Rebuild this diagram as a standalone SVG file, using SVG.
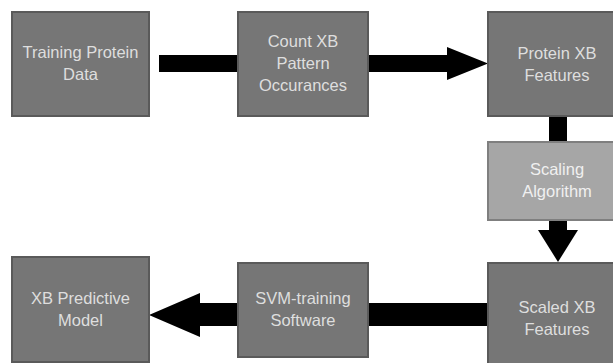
<svg xmlns="http://www.w3.org/2000/svg" width="613" height="363" viewBox="0 0 613 363">
<style>
.box{fill:#767676;stroke:#5a5a5a;stroke-width:2}
.box2{fill:#a6a6a6;stroke:#7f7f7f;stroke-width:2}
.t{font-family:"Liberation Sans",Arial,sans-serif;font-size:16.5px;fill:#dedede;text-anchor:middle}
.t2{fill:#f0f0f0}
.c{fill:#000}
</style>
<rect width="613" height="363" fill="#fff"/>
<g id="connectors">
<rect class="c" x="159" y="55" width="79" height="17"/>
<polygon class="c" points="368,55 447,55 447,47 488,63.5 447,80 447,72 368,72"/>
<rect class="c" x="549" y="116" width="18" height="26"/>
<polygon class="c" points="549,220 567,220 567,230 578,230 558,262 538,230 549,230"/>
<rect class="c" x="368" y="303" width="120" height="23"/>
<polygon class="c" points="238,303 200,303 200,293 149,315 200,337 200,326 238,326"/>
</g>
<g id="training">
<rect class="box" x="12" y="12" width="137" height="104"/>
<text class="t" x="80.5" y="58">Training Protein</text>
<text class="t" x="80.5" y="80">Data</text>
</g>
<g id="count">
<rect class="box" x="238" y="12" width="130" height="104"/>
<text class="t" x="303" y="47">Count XB</text>
<text class="t" x="303" y="69">Pattern</text>
<text class="t" x="303" y="91">Occurances</text>
</g>
<g id="protein">
<rect class="box" x="488" y="12" width="138" height="104"/>
<text class="t" x="557" y="59">Protein XB</text>
<text class="t" x="557" y="81">Features</text>
</g>
<g id="scaling">
<rect class="box2" x="488" y="142" width="138" height="78"/>
<text class="t t2" x="557" y="175">Scaling</text>
<text class="t t2" x="557" y="197">Algorithm</text>
</g>
<g id="scaled">
<rect class="box" x="488" y="263" width="138" height="118"/>
<text class="t" x="557" y="313">Scaled XB</text>
<text class="t" x="557" y="335">Features</text>
</g>
<g id="svm">
<rect class="box" x="238" y="263" width="130" height="94"/>
<text class="t" x="303" y="304">SVM-training</text>
<text class="t" x="303" y="326">Software</text>
</g>
<g id="model">
<rect class="box" x="12" y="257" width="137" height="105"/>
<text class="t" x="80.5" y="304">XB Predictive</text>
<text class="t" x="80.5" y="326">Model</text>
</g>
</svg>
